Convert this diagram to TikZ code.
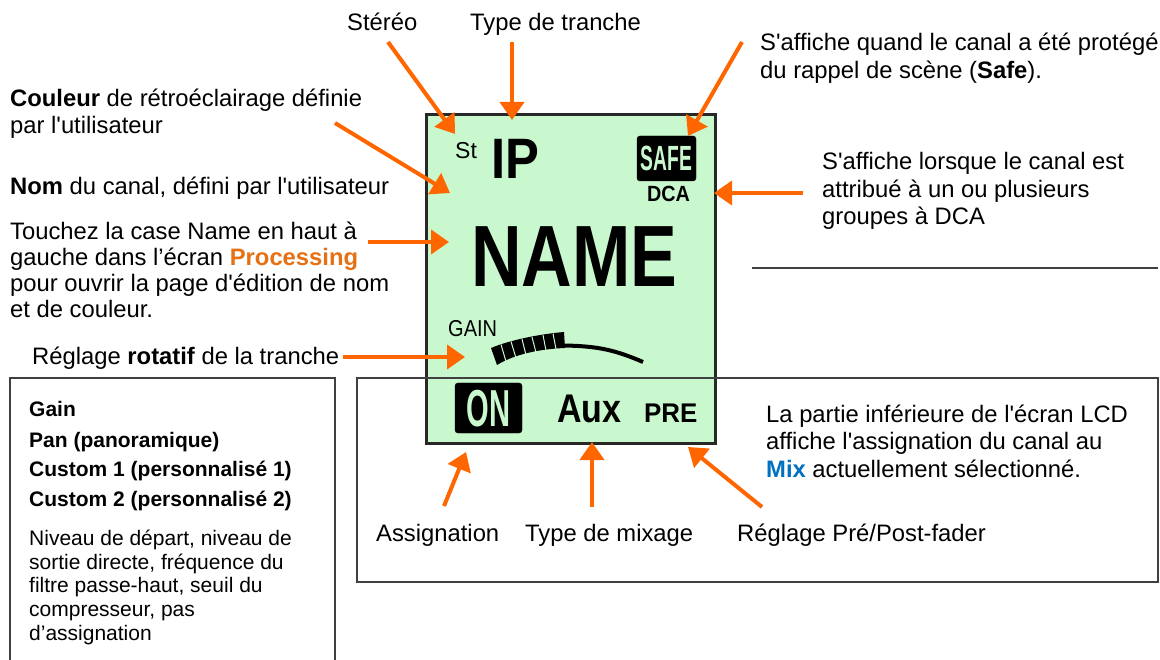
\documentclass[tikz,border=0pt]{standalone}
\usepackage{fontspec}
\setmainfont{Liberation Sans}
\newfontfamily\lsans{Liberation Sans}
\usetikzlibrary{arrows.meta}
\definecolor{lcdgreen}{RGB}{202,248,206}
\definecolor{arrorange}{RGB}{255,102,0}
\definecolor{procorange}{RGB}{230,112,20}
\definecolor{mixblue}{RGB}{0,112,192}
\definecolor{boxgray}{RGB}{64,64,64}
\definecolor{lcdedge}{RGB}{40,40,40}
\tikzset{
  lbl/.style={anchor=base west, inner sep=0pt, font=\lsans\fontsize{23.8}{27}\selectfont},
  sml/.style={anchor=base west, inner sep=0pt, font=\lsans\fontsize{21}{24}\selectfont},
  lcdtxt/.style={inner sep=0pt},
  arr/.style={draw=arrorange, line width=4pt, -{Triangle[length=18pt,width=24pt]}},
  frame/.style={draw=boxgray, line width=1.3pt},
  badge/.style={fill=black, rounded corners=3pt},
}
\begin{document}
\begin{tikzpicture}[x=1pt,y=-1pt]
\useasboundingbox (0,0) rectangle (1160,660);
\fill[white] (0,0) rectangle (1160,660);

% LCD
\draw[fill=lcdgreen, draw=lcdedge, line width=3pt] (426,115) rectangle (715,443);

% frames
\draw[frame] (10,668) -- (10,378) -- (335,378) -- (335,668);
\draw[frame] (357,378) rectangle (1158,582);
\draw[frame] (752,268) -- (1158,268);

% LCD contents
\node[lcdtxt, anchor=base west, font=\lsans\fontsize{23}{23}\selectfont] (st) at (455,159) {St};
\node[lcdtxt, anchor=base west, font=\lsans\fontsize{57}{57}\selectfont\bfseries] (ip) at (491,179) {\scalebox{0.89}[1]{IP}};
\draw[badge] (637,136) rectangle (696,181);
\node[lcdtxt, text=lcdgreen, font=\lsans\fontsize{35}{35}\selectfont\bfseries] (safe) at (666.5,158.5) {\scalebox{0.55}[1]{SAFE}};
\node[lcdtxt, anchor=base, font=\lsans\fontsize{22}{22}\selectfont\bfseries] (dca) at (668.5,202) {\scalebox{0.9}[1]{DCA}};
\node[lcdtxt, anchor=base west, font=\lsans\fontsize{87}{87}\selectfont\bfseries] (name) at (471,287) {\scalebox{0.805}[1]{NAME}};
\node[lcdtxt, anchor=base west, font=\lsans\fontsize{23}{23}\selectfont] (gain) at (448,337) {\scalebox{0.87}[1]{GAIN}};

% knob
\fill[black] (491,348) .. controls (510,340) and (540,334) .. (564,332) -- (565,348) .. controls (540,349) and (515,354) .. (497,365) -- cycle;
\draw[lcdgreen, line width=1pt] (501,344.5) -- (506,361.5)
  (511,341.5) -- (516,358) (522,339) -- (526,355) (532,337) -- (536,352.5)
  (543,335) -- (546,350.5) (553,333.5) -- (556,349);
\draw[black, line width=4pt] (563,345.5) .. controls (598,346) and (615,350) .. (643,362);

% bottom of LCD
\draw[badge] (455,383) rectangle (522,433);
\node[lcdtxt, text=lcdgreen, font=\lsans\fontsize{52}{52}\selectfont\bfseries] (on) at (488.5,408.5) {\scalebox{0.56}[1]{ON}};
\node[lcdtxt, anchor=base west, font=\lsans\fontsize{40}{40}\selectfont\bfseries] (aux) at (557,422) {\scalebox{0.85}[1]{Aux}};
\node[lcdtxt, anchor=base west, font=\lsans\fontsize{27}{27}\selectfont\bfseries] (pre) at (644,422) {\scalebox{0.96}[1]{PRE}};

% labels
\node[lbl] (tstereo) at (347,31) {Stéréo};
\node[lbl] (ttype) at (470,31) {Type de tranche};
\node[lbl] (tsafe1) at (760,51) {S'affiche quand le canal a été protégé};
\node[lbl] (tsafe2) at (760,79) {du rappel de scène (\textbf{Safe}).};
\node[lbl] (tcol1) at (10,107) {\textbf{Couleur} de rétroéclairage définie};
\node[lbl] (tcol2) at (10,134) {par l'utilisateur};
\node[lbl] (tnom) at (10,195) {\textbf{Nom} du canal, défini par l'utilisateur};
\node[lbl] (ttou1) at (10,240) {Touchez la case Name en haut à};
\node[lbl] (ttou2) at (10,266) {gauche dans l’écran \textcolor{procorange}{\textbf{Processing}}};
\node[lbl] (ttou3) at (10,292) {pour ouvrir la page d'édition de nom};
\node[lbl] (ttou4) at (10,318) {et de couleur.};
\node[lbl] (trot) at (32,365) {Réglage \textbf{rotatif} de la tranche};
\node[lbl] (tdca1) at (822,170) {S'affiche lorsque le canal est};
\node[lbl] (tdca2) at (822,197.5) {attribué à un ou plusieurs};
\node[lbl] (tdca3) at (822,225) {groupes à DCA};
\node[lbl] (tlcd1) at (766,422) {La partie inférieure de l'écran LCD};
\node[lbl] (tlcd2) at (766,449.5) {affiche l'assignation du canal au};
\node[lbl] (tlcd3) at (766,477) {\textcolor{mixblue}{\textbf{Mix}} actuellement sélectionné.};
\node[lbl] (tass) at (376,541) {Assignation};
\node[lbl] (tmix) at (525,541) {Type de mixage};
\node[lbl] (tpp) at (737,541) {Réglage Pré/Post-fader};

% left box
\node[sml] (b1) at (29,417) {\textbf{Gain}};
\node[sml] (b2) at (29,447) {\textbf{Pan (panoramique)}};
\node[sml] (b3) at (29,476) {\textbf{Custom 1 (personnalisé 1)}};
\node[sml] (b4) at (29,506) {\textbf{Custom 2 (personnalisé 2)}};
\node[sml] (n1) at (29,545) {Niveau de départ, niveau de};
\node[sml] (n2) at (29,569) {sortie directe, fréquence du};
\node[sml] (n3) at (29,592.5) {filtre passe-haut, seuil du};
\node[sml] (n4) at (29,616) {compresseur, pas};
\node[sml] (n5) at (29,640) {d’assignation};

% arrow ends
\coordinate (aSt0) at (388,42);  \coordinate (aSt1) at (455,134);
\coordinate (aTy0) at (512,42);  \coordinate (aTy1) at (512,120);
\coordinate (aSa0) at (742,42);  \coordinate (aSa1) at (688,136);
\coordinate (aCo0) at (335,123); \coordinate (aCo1) at (450,193);
\coordinate (aNa0) at (368,242); \coordinate (aNa1) at (449,242);
\coordinate (aRo0) at (343,357); \coordinate (aRo1) at (465,357);
\coordinate (aDc0) at (803,193); \coordinate (aDc1) at (714,193);
\coordinate (aAs0) at (444,506); \coordinate (aAs1) at (466,452);
\coordinate (aMx0) at (592,507); \coordinate (aMx1) at (592,442);
\coordinate (aPp0) at (762,507); \coordinate (aPp1) at (688,447);

\draw[arr] (aSt0) -- (aSt1);
\draw[arr] (aTy0) -- (aTy1);
\draw[arr] (aSa0) -- (aSa1);
\draw[arr] (aCo0) -- (aCo1);
\draw[arr] (aNa0) -- (aNa1);
\draw[arr] (aRo0) -- (aRo1);
\draw[arr] (aDc0) -- (aDc1);
\draw[arr] (aAs0) -- (aAs1);
\draw[arr] (aMx0) -- (aMx1);
\draw[arr] (aPp0) -- (aPp1);
\end{tikzpicture}
\end{document}
